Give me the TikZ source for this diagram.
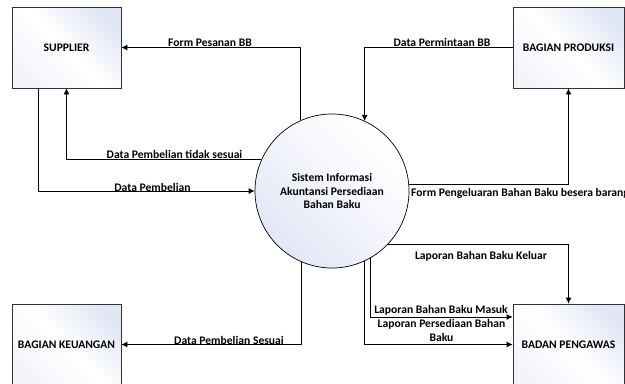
\documentclass[tikz,border=0pt]{standalone}
\usepackage{fontspec}
\setmainfont{Carlito}
\usetikzlibrary{arrows.meta}
\definecolor{tint}{RGB}{226,231,246}
\definecolor{edge}{RGB}{50,50,50}
\tikzset{
  lbl/.style={font=\bfseries\fontsize{11.6bp}{13.5bp}\selectfont, inner sep=0pt},
  entity/.style={draw=edge, line width=0.8bp, minimum width=109bp, minimum height=81bp,
    inner sep=0pt, shading=axis, left color=tint, right color=tint!40, middle color=white,
    shading angle=-45, lbl},
  process/.style={circle, draw=black, line width=0.7bp, minimum size=154bp, inner sep=0pt,
    shading=axis, left color=white, right color=tint, middle color=white!60!tint,
    shading angle=-45, lbl, align=center},
  flow/.style={draw=black, line width=0.8bp, -{Latex[length=6bp,width=6bp]}},
}
\begin{document}
\begin{tikzpicture}[x=1bp, y=-1bp]
  \useasboundingbox (0,0) rectangle (625,383);
  \clip (0,0) rectangle (625,383);

  % external entities and the process
  \node[entity] (sup) at (66.5,47.5) {SUPPLIER};
  \node[entity, minimum width=111bp] (prod) at (568.5,47.5) {BAGIAN PRODUKSI};
  \node[entity] (keu) at (66.5,344.5) {BAGIAN KEUANGAN};
  \node[entity, minimum width=111bp] (pen) at (568.5,344.5) {BADAN PENGAWAS};
  \node[process] (proc) at (332,191) {Sistem Informasi\\Akuntansi Persediaan\\Bahan Baku};

  % data flows
  \draw[flow] (proc.114) |- (sup.east);
  \draw[flow] (prod.west) -| (proc.65.4);
  \draw[flow] (proc.156) -| (sup.south);
  \draw[flow] ([xshift=-28.5bp]sup.south) |- (proc.west);
  \draw[flow] (proc.5.6) -| (prod.south);
  \draw[flow] (proc.-113) |- (keu.east);
  \draw[flow] (proc.-44.5) -| (pen.north);
  \draw[flow] (proc.-60.4) |- ([yshift=27.5bp]pen.west);
  \draw[flow] (proc.-65.4) |- (pen.west);

  % flow labels
  \node[lbl, anchor=base] (l1) at (210,46) {Form Pesanan BB};
  \node[lbl, anchor=base] (l2) at (442,46) {Data Permintaan BB};
  \node[lbl, anchor=base] (l3) at (174.5,158.5) {Data Pembelian tidak sesuai};
  \node[lbl, anchor=base] (l4) at (152.5,191) {Data Pembelian};
  \node[lbl, anchor=base west] (l5) at (411,196) {Form Pengeluaran Bahan Baku besera barang};
  \node[lbl, anchor=base] (l6) at (229,344) {Data Pembelian Sesuai};
  \node[lbl, anchor=base] (l7) at (481,259) {Laporan Bahan Baku Keluar};
  \node[lbl, anchor=base] (l8) at (441,313) {Laporan Bahan Baku Masuk};
  \node[lbl, anchor=base, align=center] (l9) at (441.5,341) {Laporan Persediaan Bahan\\Baku};
\end{tikzpicture}
\end{document}
